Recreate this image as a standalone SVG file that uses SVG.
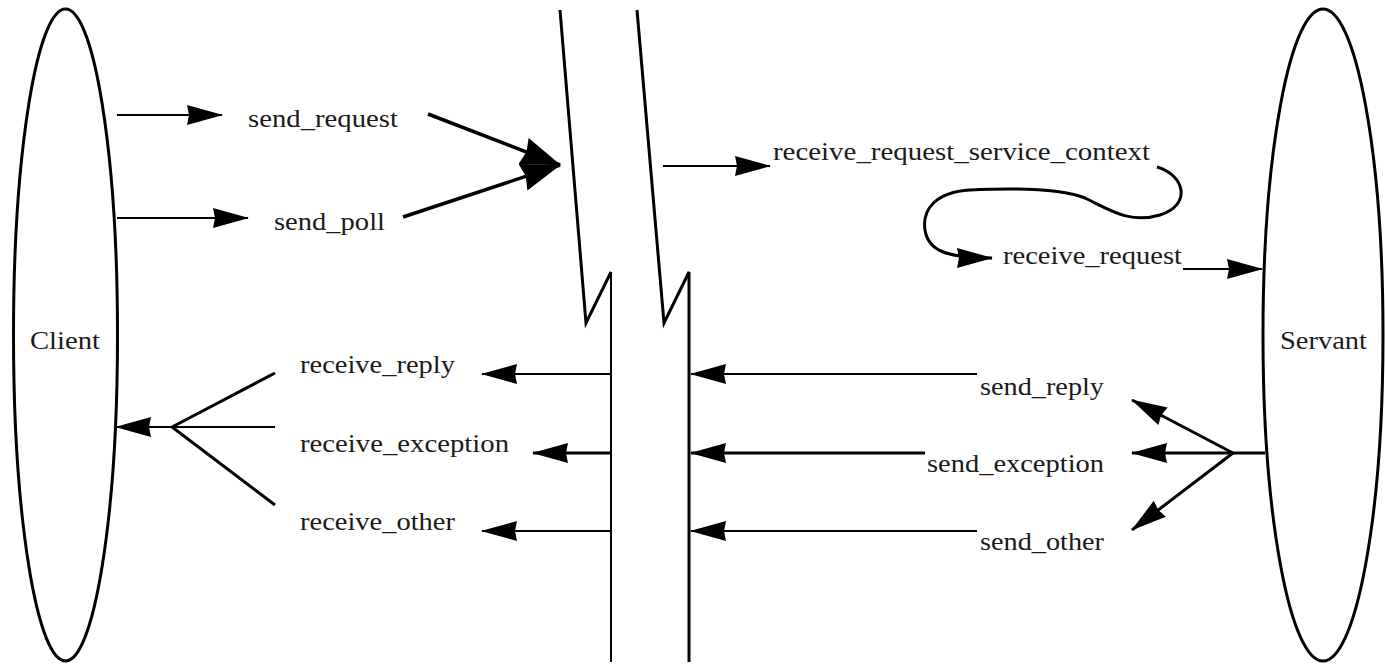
<svg xmlns="http://www.w3.org/2000/svg" width="1385" height="665" viewBox="0 0 1385 665">
<style>
.t{font-family:"Liberation Serif","Times New Roman",serif;font-size:26px;fill:#1a1a1a}
.l{stroke:#000;fill:none;stroke-width:2}
.m{stroke:#000;fill:none;stroke-width:3}
.n{stroke:#000;fill:none;stroke-width:3.5}
</style>
<defs>
<marker id="a" markerUnits="userSpaceOnUse" viewBox="0 0 36 22" refX="35" refY="11" markerWidth="36" markerHeight="22" orient="auto">
<path d="M0,1 L36,11 L0,21 L2,11 Z" fill="#000"/>
</marker>
<marker id="b" markerUnits="userSpaceOnUse" viewBox="0 0 40 30" refX="39" refY="15" markerWidth="40" markerHeight="30" orient="auto">
<path d="M0,1 L40,15 L0,29 L3,15 Z" fill="#000"/>
</marker>
</defs>
<rect width="1385" height="665" fill="#fff"/>
<g id="client"><ellipse cx="65.5" cy="335" rx="52" ry="326" class="m"/><text class="t" x="30" y="349" textLength="70" lengthAdjust="spacingAndGlyphs">Client</text></g>
<g id="servant"><ellipse cx="1323" cy="335" rx="60" ry="326" class="m"/><text class="t" x="1280" y="349" textLength="87" lengthAdjust="spacingAndGlyphs">Servant</text></g>
<g id="boundary">
<polyline class="m" points="560,10 586,323 611,272"/>
<line x1="611" y1="272" x2="611" y2="662" stroke="#000" stroke-width="2"/>
<polyline class="m" points="637,10 664,323 689,272 689,662"/>
</g>
<g id="labels">
<text class="t" x="248" y="127" textLength="150" lengthAdjust="spacingAndGlyphs">send_request</text>
<text class="t" x="274" y="230" textLength="111" lengthAdjust="spacingAndGlyphs">send_poll</text>
<text class="t" x="773" y="160" textLength="377" lengthAdjust="spacingAndGlyphs">receive_request_service_context</text>
<text class="t" x="1003" y="264" textLength="179" lengthAdjust="spacingAndGlyphs">receive_request</text>
<text class="t" x="300" y="373" textLength="155" lengthAdjust="spacingAndGlyphs">receive_reply</text>
<text class="t" x="300" y="452" textLength="209" lengthAdjust="spacingAndGlyphs">receive_exception</text>
<text class="t" x="300" y="530" textLength="155" lengthAdjust="spacingAndGlyphs">receive_other</text>
<text class="t" x="980" y="395" textLength="124" lengthAdjust="spacingAndGlyphs">send_reply</text>
<text class="t" x="927" y="472" textLength="177" lengthAdjust="spacingAndGlyphs">send_exception</text>
<text class="t" x="980" y="550" textLength="124" lengthAdjust="spacingAndGlyphs">send_other</text>
</g>
<g id="connectors">
<line class="l" x1="117" y1="115" x2="222" y2="115" marker-end="url(#a)"/>
<line class="l" x1="117" y1="218" x2="248" y2="218" marker-end="url(#a)"/>
<line class="n" x1="428" y1="114" x2="560" y2="165" marker-end="url(#b)"/>
<line class="n" x1="403" y1="217" x2="560" y2="165" marker-end="url(#b)"/>
<line class="l" x1="663" y1="166" x2="770" y2="166" marker-end="url(#a)"/>
<path class="m" d="M1157,167 C1185,175 1192,205 1160,215 C1130,224 1110,210 1085,198 C1060,188 1010,188 970,190 C935,192 922,210 925,230 C928,250 945,258 992,258" marker-end="url(#a)"/>
<line class="l" x1="1183" y1="269" x2="1262" y2="269" marker-end="url(#a)"/>
<line class="l" x1="611" y1="374" x2="482" y2="374" marker-end="url(#a)"/>
<line class="m" x1="611" y1="453" x2="533" y2="453" marker-end="url(#a)"/>
<line class="l" x1="611" y1="531" x2="482" y2="531" marker-end="url(#a)"/>
<line class="l" x1="977" y1="374" x2="691" y2="374" marker-end="url(#a)"/>
<line class="m" x1="925" y1="453" x2="691" y2="453" marker-end="url(#a)"/>
<line class="l" x1="977" y1="531" x2="691" y2="531" marker-end="url(#a)"/>
<line class="l" x1="275" y1="427" x2="116" y2="427" marker-end="url(#a)"/>
<line class="m" x1="275" y1="373" x2="172" y2="427"/>
<line class="m" x1="275" y1="505" x2="172" y2="427"/>
<line class="m" x1="1265" y1="453" x2="1132" y2="453" marker-end="url(#a)"/>
<line class="m" x1="1233" y1="453" x2="1132" y2="400" marker-end="url(#a)"/>
<line class="m" x1="1233" y1="453" x2="1132" y2="530" marker-end="url(#a)"/>
</g>
</svg>
